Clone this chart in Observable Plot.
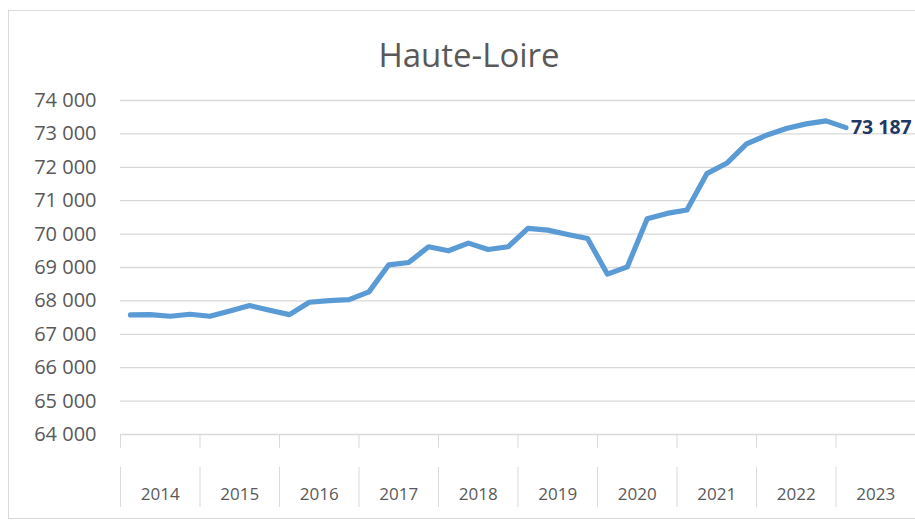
<!DOCTYPE html>
<html><head><meta charset="utf-8">
<script src="https://cdn.jsdelivr.net/npm/d3@7"></script>
<script src="https://cdn.jsdelivr.net/npm/@observablehq/plot@0.6"></script>
<style>
html,body{margin:0;padding:0;background:#fff;}
#wrap{position:relative;width:915px;height:522px;overflow:hidden;}
#wrap svg{position:absolute;left:0;top:0;}
#box{position:absolute;left:8px;top:10px;width:930px;height:509px;border:1px solid #d9d9d9;box-sizing:border-box;pointer-events:none;}
</style></head><body>
<div id="wrap"><div id="box"></div></div>
<script>
const title = "Haute-Loire";
const years = [2014, 2015, 2016, 2017, 2018, 2019, 2020, 2021, 2022, 2023];
const quartersPerYear = 4;
// quarterly values, 2014 Q1 -> 2023 Q1
const values = [
  67580, 67590, 67540, 67600,
  67540, 67700, 67860, 67720,
  67590, 67960, 68010, 68040,
  68270, 69080, 69150, 69620,
  69500, 69730, 69540, 69620,
  70170, 70120, 69990, 69870,
  68800, 69020, 70460, 70620,
  70720, 71810, 72120, 72700,
  72960, 73160, 73300, 73390,
  73187
];
const yTicks = [64000, 65000, 66000, 67000, 68000, 69000, 70000, 71000, 72000, 73000, 74000];

const fmt = d => d3.format(",")(d).replace(/,/g, " ");
const nSlots = years.length * quartersPerYear;
const data = values.map((v, k) => ({x: k + 0.5, y: v}));
const last = data[data.length - 1];
const boundaries = d3.range(0, nSlots + 1, quartersPerYear);
const centers = years.map((y, k) => k * quartersPerYear + quartersPerYear / 2);

const chart = Plot.plot({
  width: 915, height: 522,
  marginLeft: 120, marginRight: 0, marginTop: 100, marginBottom: 88,
  style: {fontFamily: "'Open Sans', sans-serif", color: "#595959", background: "transparent", overflow: "visible"},
  x: {type: "linear", domain: [0, nSlots], axis: null},
  y: {domain: [64000, 74000], axis: null},
  marks: [
    Plot.ruleY(yTicks, {stroke: "#d9d9d9", strokeWidth: 1.3}),
    Plot.axisY({ticks: yTicks, tickSize: 0, tickPadding: 24, tickFormat: fmt, fontSize: 20, fill: "#595959", label: null}),
    Plot.axisX({ticks: boundaries, tickSize: 14, tickFormat: () => "", stroke: "#d9d9d9", label: null}),
    Plot.axisX({ticks: boundaries, tickSize: 40, tickFormat: () => "", stroke: "#d9d9d9", dy: 33, label: null}),
    Plot.axisX({ticks: centers, tickSize: 0, tickPadding: 53, tickFormat: c => String(years[(c - quartersPerYear / 2) / quartersPerYear]), fontSize: 17, fill: "#595959", label: null}),
    Plot.line(data, {x: "x", y: "y", stroke: "#5B9BD5", strokeWidth: 5.2, strokeLinejoin: "round", strokeLinecap: "round"}),
    Plot.text([last], {x: "x", y: "y", text: d => fmt(d.y), textAnchor: "start", dx: 5, fontSize: 19.5, fontWeight: "bold", fill: "#1F3864"}),
    Plot.text([title], {frameAnchor: "top", lineAnchor: "middle", dy: -44, dx: -49, fontSize: 33, fill: "#595959"})
  ]
});
document.getElementById("wrap").appendChild(chart);
</script>
</body></html>
